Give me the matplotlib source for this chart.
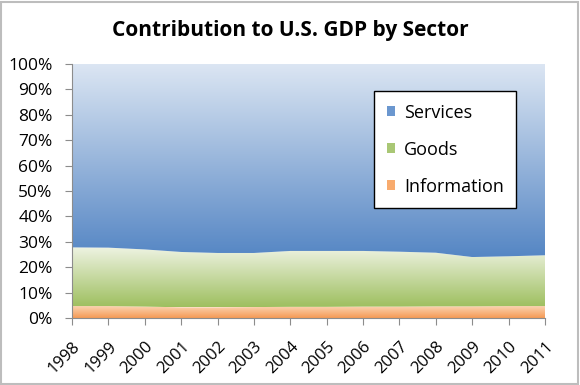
import numpy as np
import matplotlib
matplotlib.use("Agg")
import matplotlib.pyplot as plt
from matplotlib.colors import LinearSegmentedColormap
from matplotlib.patches import Rectangle, Patch, PathPatch

years = [1998, 1999, 2000, 2001, 2002, 2003, 2004, 2005, 2006, 2007, 2008, 2009, 2010, 2011]
information = [4.7, 4.7, 4.5, 4.2, 4.2, 4.3, 4.4, 4.4, 4.5, 4.5, 4.6, 4.6, 4.7, 4.7]
goods_top = [27.8, 27.7, 27.0, 26.0, 25.6, 25.6, 26.4, 26.4, 26.4, 26.1, 25.7, 24.0, 24.3, 24.7]
goods = [round(t - i, 1) for t, i in zip(goods_top, information)]
services = [round(100 - t, 1) for t in goods_top]
series_names = ["Information", "Goods", "Services"]
yticks = list(range(0, 101, 10))

plt.rcParams['font.family'] = ['Open Sans', 'DejaVu Sans']

fig = plt.figure(figsize=(5.8, 3.85), dpi=100)
fig.patches.append(Rectangle((0.002, 0.003), 0.995, 0.993, transform=fig.transFigure,
                             fill=False, edgecolor='#bdbdbd', linewidth=1.5))
ax = fig.add_axes([72/580, 1-318/385, (545-72)/580, (318-64)/385])

x = np.array(years, dtype=float)
info = np.array(information)
gd = np.array(goods)
sv = np.array(services)
polys = ax.stackplot(x, info, gd, sv, colors=['none', 'none', 'none'], linewidth=0)

grads = [
    ('#fbd3b0', '#f59a55'),   # information
    ('#eef3e2', '#9ebf5f'),   # goods
    ('#dce6f3', '#5586c4'),   # services
]
lows = [np.zeros_like(info), info, info + gd]
highs = [info, info + gd, info + gd + sv]
for poly, (ctop, cbot), lo, hi in zip(polys, grads, lows, highs):
    cmap = LinearSegmentedColormap.from_list('g', [cbot, ctop])
    ymin, ymax = lo.min(), hi.max()
    grad = np.linspace(0, 1, 256).reshape(-1, 1)
    im = ax.imshow(grad, cmap=cmap, aspect='auto', origin='lower',
                   extent=[x[0], x[-1], ymin, ymax], zorder=1, interpolation='bilinear')
    clip = PathPatch(poly.get_paths()[0], transform=ax.transData, facecolor='none', edgecolor='none')
    ax.add_patch(clip)
    im.set_clip_path(clip)

ax.set_xlim(x[0], x[-1])
ax.set_ylim(0, 100)
ax.set_yticks(yticks)
ax.set_yticklabels([f"{v}%" for v in yticks], fontsize=12.5)
ax.set_xticks(years)
ax.set_xticklabels([str(y) for y in years], rotation=45, ha='right', rotation_mode='anchor', fontsize=12)
for s in ['top', 'right']:
    ax.spines[s].set_visible(False)
for s in ['left', 'bottom']:
    ax.spines[s].set_color('#8c8c8c')
ax.tick_params(axis='both', colors='#8c8c8c', labelcolor='black', length=5, direction='out')
ax.tick_params(axis='y', pad=9)
ax.tick_params(axis='x', pad=10)

fig.text(0.5, 0.92, "Contribution to U.S. GDP by Sector", ha='center', va='center',
         fontsize=15, fontweight='bold')

handles = [Patch(facecolor='#6b97cf', edgecolor='none'),
           Patch(facecolor='#a9c775', edgecolor='none'),
           Patch(facecolor='#f8ab6e', edgecolor='none')]
leg = ax.legend(handles, ["Services", "Goods", "Information"], loc='upper left',
                bbox_to_anchor=((374-72)/473, (318-91)/254), fontsize=13, frameon=True,
                fancybox=False, edgecolor='black', framealpha=1, handlelength=0.45, handleheight=0.45,
                handletextpad=0.5, labelspacing=1.05, borderpad=0.7, borderaxespad=0)
leg.get_frame().set_linewidth(1.0)

fig.savefig("out.png", dpi=100)
